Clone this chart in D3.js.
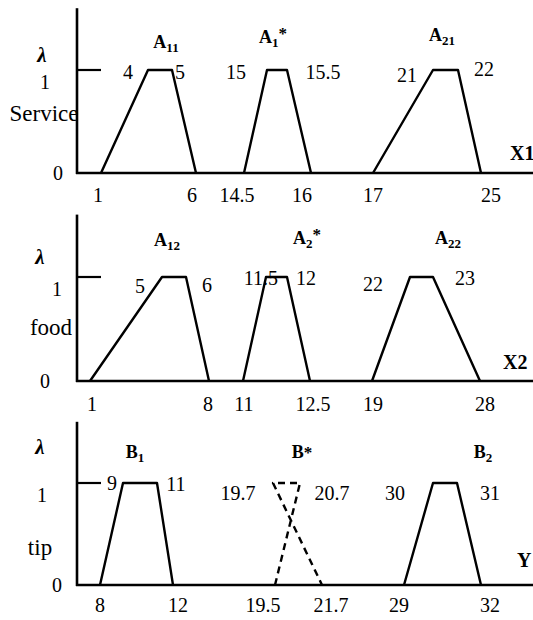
<!DOCTYPE html>
<html><head><meta charset="utf-8">
<script src="https://cdn.jsdelivr.net/npm/d3@7"></script>
<style>body{margin:0;background:#fff}</style>
</head><body>
<svg id="c" width="533" height="620" xmlns="http://www.w3.org/2000/svg"></svg>
<script>
// ---------------- DATA ----------------
const inputNames = ["Service", "food", "tip"];
const axisNames  = [["X","1"], ["X","2"], ["Y",""]];
const lambdaTicks = [0, 1];
const lambdaTop = 1.6;

const serviceSets  = [["A","11",""], ["A","1","*"], ["A","21",""]];
const serviceTraps = [[1, 4, 5, 6], [14.5, 15, 15.5, 16], [17, 21, 22, 25]];

const foodSets  = [["A","12",""], ["A","2","*"], ["A","22",""]];
const foodTraps = [[1, 5, 6, 8], [11, 11.5, 12, 12.5], [19, 22, 23, 28]];

const tipSets  = [["B","1",""], ["B","","*"], ["B","2",""]];
const tipTraps = [[8, 9, 11, 12], [19.5, 19.7, 20.7, 21.7], [29, 30, 31, 32]];
const tipDashed = [false, true, false];   // B* is the dashed (crossed) output set

// ---------------- LAYOUT (schematic, non-linear x axes) ----------------
const layout = [
  { name:[44,113], lam:[42,55], one:45, zero:58, axisName:[510,153], tickY:195,
    yR:[173,70], xR:[101,148,172,196,244,267,287,311,373,433,458,481],
    setPos:[[166,42],[273,37],[442,35]],
    bNudge:[[-20,2],[-31,2],[-26,5]], cNudge:[[8,2],[36,2],[26,-1]],
    tickNudge:[[-3,-4],[-7,-9],[0,10]] },
  { name:[51,327], lam:[40,257], one:57, zero:45, axisName:[503,362], tickY:404,
    yR:[381,277], xR:[90,162,186,209,243,266,287,310,372,410,433,480],
    setPos:[[167,240],[307,238],[448,238]],
    bNudge:[[-22,9],[-5,1],[-37,7]], cNudge:[[21,8],[19,1],[32,1]],
    tickNudge:[[2,-1],[1,3],[1,5]] },
  { name:[40,547], lam:[40,447], one:42, zero:57, axisName:[517,560], tickY:605,
    yR:[585,483], xR:[100,123,157,173,275,273,300,322,404,433,457,481],
    setPos:[[135,452],[302,452],[483,452]],
    bNudge:[[-11,0],[-35,10],[-38,10]], cNudge:[[19,1],[32,10],[33,10]],
    tickNudge:[[0,5],[-12,9],[-5,9]] }
];

const panels = [
  { sets: serviceSets, traps: serviceTraps, dashed: [false,false,false] },
  { sets: foodSets,    traps: foodTraps,    dashed: [false,false,false] },
  { sets: tipSets,     traps: tipTraps,     dashed: tipDashed }
];

const serif = "'Liberation Serif','Times New Roman',serif";
const svg = d3.select("#c");
const axisX0 = 77, axisX1 = 533;
const numSize = 20;

panels.forEach((p, i) => {
  const L = layout[i];
  const domain = p.traps.flat();
  const x = d3.scaleLinear().domain(domain).range(L.xR);
  const y = d3.scaleLinear().domain([0, 1]).range(L.yR);
  const g = svg.append("g");

  // axes
  g.append("line").attr("x1", axisX0).attr("x2", axisX0)
    .attr("y1", y(0) + 1).attr("y2", y(lambdaTop))
    .attr("stroke", "#000").attr("stroke-width", 2.6);
  g.append("line").attr("x1", axisX0 - 1).attr("x2", axisX1)
    .attr("y1", y(0)).attr("y2", y(0))
    .attr("stroke", "#000").attr("stroke-width", 2.6);
  // level-1 tick
  g.append("line").attr("x1", axisX0).attr("x2", axisX0 + 24)
    .attr("y1", y(1)).attr("y2", y(1))
    .attr("stroke", "#000").attr("stroke-width", 2.2);

  // lambda tick labels
  g.selectAll(".lt").data(lambdaTicks).join("text")
    .attr("x", d => d === 0 ? L.zero : L.one)
    .attr("y", d => d === 0 ? y(d) : y(d) + 12)
    .attr("dy", "0.35em").attr("text-anchor", "middle")
    .attr("font-family", serif).attr("font-size", numSize)
    .text(d => d);

  // lambda symbol
  g.append("text").attr("x", L.lam[0]).attr("y", L.lam[1]).attr("dy", "0.35em")
    .attr("text-anchor", "middle").attr("font-family", serif)
    .attr("font-style", "italic").attr("font-weight", "bold").attr("font-size", 21)
    .text("λ");

  // input name
  g.append("text").attr("x", L.name[0]).attr("y", L.name[1]).attr("dy", "0.35em")
    .attr("text-anchor", "middle").attr("font-family", serif).attr("font-size", 23)
    .text(inputNames[i]);

  // axis name
  const an = g.append("text").attr("x", L.axisName[0]).attr("y", L.axisName[1]).attr("dy", "0.35em")
    .attr("font-family", serif).attr("font-weight", "bold").attr("font-size", 20);
  an.append("tspan").text(axisNames[i][0]);
  if (axisNames[i][1]) an.append("tspan").text(axisNames[i][1]);

  const line = d3.line().x(d => x(d[0])).y(d => y(d[1]));

  p.traps.forEach((t, k) => {
    const [a, b, c, d] = t;
    const pts = p.dashed[k]
      ? [[a,0],[c,1],[b,1],[d,0]]
      : [[a,0],[b,1],[c,1],[d,0]];
    g.append("path").attr("d", line(pts)).attr("fill", "none")
      .attr("stroke", "#000").attr("stroke-width", 2.4)
      .attr("stroke-linejoin", "round")
      .attr("stroke-dasharray", p.dashed[k] ? "7,5" : null);

    // set label
    const s = p.sets[k];
    const st = g.append("text").attr("x", L.setPos[k][0]).attr("y", L.setPos[k][1]).attr("dy", "0.35em")
      .attr("text-anchor", "middle").attr("font-family", serif)
      .attr("font-weight", "bold").attr("font-size", 18);
    st.append("tspan").text(s[0]);
    if (s[1]) st.append("tspan").attr("font-size", 13).attr("dy", "0.25em").text(s[1]);
    if (s[2]) st.append("tspan").attr("font-size", 17).attr("dy", s[1] ? "-0.45em" : "0").text(s[2]);

    // corner labels (top)
    [[b, L.bNudge[k]], [c, L.cNudge[k]]].forEach(([v, n]) => {
      g.append("text").attr("x", x(v) + n[0]).attr("y", y(1) + n[1]).attr("dy", "0.35em")
        .attr("text-anchor", "middle").attr("font-family", serif).attr("font-size", numSize)
        .text(v);
    });
    // base labels (below axis)
    [[a, L.tickNudge[k][0]], [d, L.tickNudge[k][1]]].forEach(([v, n]) => {
      g.append("text").attr("x", x(v) + n).attr("y", L.tickY).attr("dy", "0.35em")
        .attr("text-anchor", "middle").attr("font-family", serif).attr("font-size", numSize)
        .text(v);
    });
  });
});
</script>
</body></html>
